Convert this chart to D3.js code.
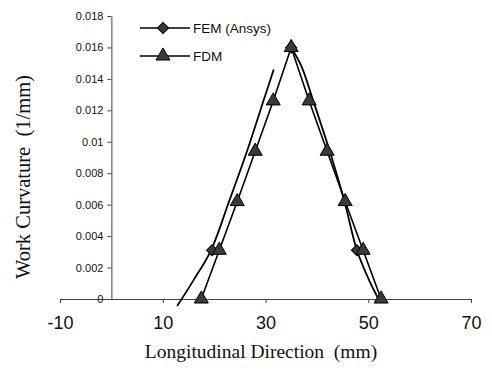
<!DOCTYPE html>
<html>
<head>
<meta charset="utf-8">
<script src="https://cdn.jsdelivr.net/npm/d3@7"></script>
<style>
  body { margin: 0; background: #fff; }
  svg { display: block; }
</style>
</head>
<body>
<script>
// FDM series (triangles)
var fdmX = [17.5, 21, 24.5, 28, 31.5, 35, 38.5, 42, 45.5, 49, 52.5];
var fdmY = [0, 0.0031, 0.0062, 0.0094, 0.0126, 0.016, 0.0126, 0.0094, 0.0062, 0.0031, 0];

// FEM (Ansys) smoothed curve, null = break in the scanned line
var femX = [12.8, 16, 19.4, 22.9, 26.4, 29.7, 31.6, null, 35, 37, 39.2, 42.5, 45.3, 47.8, 50.3, 52.3];
var femY = [-0.00045, 0.0012, 0.0031, 0.0062, 0.0094, 0.0127, 0.0146, null, 0.016, 0.0148, 0.0127, 0.0094, 0.0063, 0.0031, 0.0011, -0.0002];

// FEM marker points
var femMarkX = [19.6, 35, 47.8];
var femMarkY = [0.0031, 0.016, 0.0031];

var xTicks = [-10, 10, 30, 50, 70];
var yTicks = [0, 0.002, 0.004, 0.006, 0.008, 0.01, 0.012, 0.014, 0.016, 0.018];

var width = 492, height = 379;

var svg = d3.select("body").append("svg")
  .attr("width", width)
  .attr("height", height);

var x = d3.scaleLinear().domain([-10, 70]).range([60, 471]);
var y = d3.scaleLinear().domain([0, 0.018]).range([299, 16]);

var axisColor = "#444";

// eje X
var gx = svg.append("g")
  .attr("transform", "translate(0," + y(0) + ")")
  .call(d3.axisBottom(x).tickValues(xTicks).tickSize(4).tickSizeOuter(0).tickFormat(d3.format("d")));
gx.select(".domain").attr("stroke", axisColor);
gx.selectAll(".tick line").attr("stroke", axisColor);
gx.selectAll(".tick text")
  .attr("y", 17)
  .attr("dy", "0.71em")
  .style("font-family", "Arial, 'Liberation Sans', sans-serif")
  .style("font-size", "18px")
  .attr("fill", "#111")
  .text(function(d) { return d; });

// eje Y (cruza en x = 0)
var gy = svg.append("g")
  .attr("transform", "translate(" + x(0) + ",0)")
  .call(d3.axisLeft(y).tickValues(yTicks).tickSize(4).tickSizeOuter(0)
    .tickFormat(function(d) { return d === 0 ? "0" : String(+d.toFixed(3)); }));
gy.select(".domain").attr("stroke", axisColor);
gy.selectAll(".tick line").attr("stroke", axisColor);
gy.selectAll(".tick text")
  .attr("x", -8)
  .style("font-family", "Arial, 'Liberation Sans', sans-serif")
  .style("font-size", "11px")
  .attr("fill", "#111");

// títulos
svg.append("text")
  .attr("x", 261)
  .attr("y", 358)
  .attr("text-anchor", "middle")
  .style("font-family", "'Liberation Serif', 'Times New Roman', serif")
  .style("font-size", "19.5px")
  .style("white-space", "pre")
  .attr("fill", "#111")
  .text("Longitudinal Direction  (mm)");

svg.append("text")
  .attr("transform", "translate(30,177) rotate(-90)")
  .attr("text-anchor", "middle")
  .style("font-family", "'Liberation Serif', 'Times New Roman', serif")
  .style("font-size", "20.5px")
  .style("white-space", "pre")
  .attr("fill", "#111")
  .text("Work Curvature  (1/mm)");

// líneas
var femData = femX.map(function(d, i) { return { x: d, y: femY[i] }; });
var fdmData = fdmX.map(function(d, i) { return { x: d, y: fdmY[i] }; });

svg.append("path")
  .datum(femData)
  .attr("fill", "none")
  .attr("stroke", "#000")
  .attr("stroke-width", 1.8)
  .attr("d", d3.line()
    .defined(function(d) { return d.x !== null; })
    .curve(d3.curveCatmullRom)
    .x(function(d) { return x(d.x); })
    .y(function(d) { return y(d.y); }));

svg.append("path")
  .datum(fdmData)
  .attr("fill", "none")
  .attr("stroke", "#000")
  .attr("stroke-width", 1.6)
  .attr("d", d3.line()
    .x(function(d) { return x(d.x); })
    .y(function(d) { return y(d.y); }));

var tri = d3.symbol().type(d3.symbolTriangle).size(85);
var dia = d3.symbol().type(d3.symbolSquare).size(62);

svg.append("g").selectAll("path")
  .data(femMarkX.map(function(d, i) { return { x: d, y: femMarkY[i] }; }))
  .enter().append("path")
  .attr("d", dia)
  .attr("transform", function(d) { return "translate(" + x(d.x) + "," + y(d.y) + ") rotate(45)"; })
  .attr("fill", "#3a3a3a")
  .attr("stroke", "#000")
  .attr("stroke-width", 1);

svg.append("g").selectAll("path")
  .data(fdmData)
  .enter().append("path")
  .attr("d", tri)
  .attr("transform", function(d) { return "translate(" + x(d.x) + "," + y(d.y) + ")"; })
  .attr("fill", "#3a3a3a")
  .attr("stroke", "#000")
  .attr("stroke-width", 1);

// leyenda
var legend = [
  { name: "FEM (Ansys)", sym: dia, rot: 45 },
  { name: "FDM", sym: tri, rot: 0 }
];
var lg = svg.append("g").selectAll("g")
  .data(legend)
  .enter().append("g")
  .attr("transform", function(d, i) { return "translate(140," + (28 + i * 28) + ")"; });
lg.append("line")
  .attr("x1", 0).attr("x2", 50)
  .attr("stroke", "#000").attr("stroke-width", 1.6);
lg.append("path")
  .attr("d", function(d) { return d.sym(); })
  .attr("transform", function(d) { return "translate(23,0) rotate(" + d.rot + ")"; })
  .attr("fill", "#3a3a3a")
  .attr("stroke", "#000");
lg.append("text")
  .attr("x", 53)
  .attr("dy", "0.36em")
  .style("font-family", "Arial, 'Liberation Sans', sans-serif")
  .style("font-size", "13.5px")
  .attr("fill", "#111")
  .text(function(d) { return d.name; });
</script>
</body>
</html>
